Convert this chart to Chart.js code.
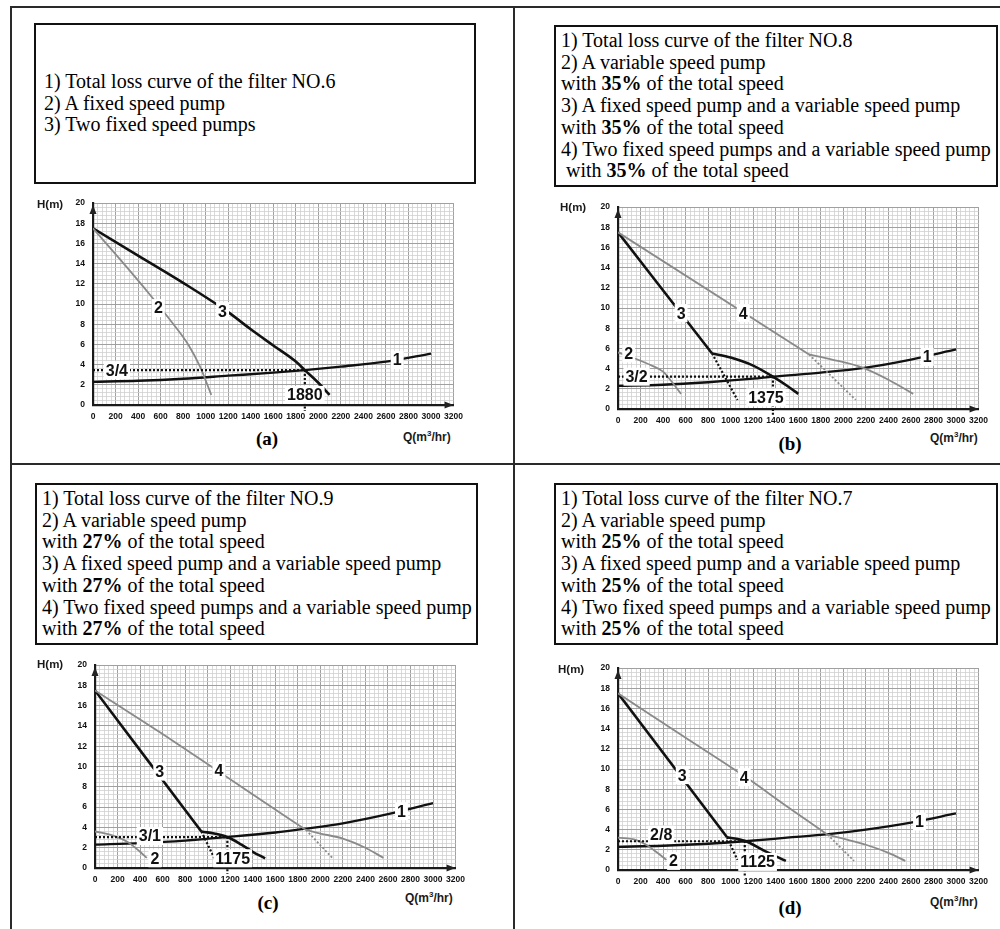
<!DOCTYPE html>
<html><head><meta charset="utf-8">
<script src="https://cdn.jsdelivr.net/npm/chart.js@4.4.0/dist/chart.umd.min.js"></script>
<style>
body{margin:0;width:1000px;height:929px;position:relative;background:#fff;overflow:hidden;font-family:"Liberation Serif","Times New Roman",serif;color:#000;}
.fr{position:absolute;background:#2a2a2a;}
.box{position:absolute;border:2px solid #111;box-sizing:border-box;font-size:20px;line-height:21.7px;padding-left:5px;display:flex;flex-direction:column;justify-content:center;white-space:nowrap;}
.cv{position:absolute;}
.ax{position:absolute;font-family:"Liberation Sans",Arial,sans-serif;font-weight:bold;color:#1a1a1a;white-space:nowrap;line-height:1;}
.pl{position:absolute;font-family:"Liberation Serif","Times New Roman",serif;font-weight:bold;font-size:19px;line-height:1;transform:translate(-50%,-50%);}
</style></head><body>
<div class="fr" style="left:10px;top:6px;width:990px;height:2px"></div>
<div class="fr" style="left:10px;top:6px;width:2px;height:923px"></div>
<div class="fr" style="left:513px;top:6px;width:2px;height:923px"></div>
<div class="fr" style="left:10px;top:463px;width:990px;height:2px"></div>

<div class="box" style="left:34px;top:23px;width:442px;height:161px;padding-left:8px">
<div>1) Total loss curve of the filter NO.6</div>
<div>2) A fixed speed pump</div>
<div>3) Two fixed speed pumps</div>
</div>
<div class="box" style="left:554px;top:25px;width:444px;height:162px">
<div>1) Total loss curve of the filter NO.8</div>
<div>2) A variable speed pump</div>
<div>with <b>35%</b> of the total speed</div>
<div>3) A fixed speed pump and a variable speed pump</div>
<div>with <b>35%</b> of the total speed</div>
<div>4) Two fixed speed pumps and a variable speed pump</div>
<div>&nbsp;with <b>35%</b> of the total speed</div>
</div>
<div class="box" style="left:35px;top:483px;width:443px;height:162px">
<div>1) Total loss curve of the filter NO.9</div>
<div>2) A variable speed pump</div>
<div>with <b>27%</b> of the total speed</div>
<div>3) A fixed speed pump and a variable speed pump</div>
<div>with <b>27%</b> of the total speed</div>
<div>4) Two fixed speed pumps and a variable speed pump</div>
<div>with <b>27%</b> of the total speed</div>
</div>
<div class="box" style="left:554px;top:483px;width:444px;height:162px">
<div>1) Total loss curve of the filter NO.7</div>
<div>2) A variable speed pump</div>
<div>with <b>25%</b> of the total speed</div>
<div>3) A fixed speed pump and a variable speed pump</div>
<div>with <b>25%</b> of the total speed</div>
<div>4) Two fixed speed pumps and a variable speed pump</div>
<div>with <b>25%</b> of the total speed</div>
</div>

<canvas id="ca" class="cv" width="415" height="235" style="left:55px;top:190px"></canvas>
<canvas id="cb" class="cv" width="415" height="235" style="left:580px;top:194px"></canvas>
<canvas id="cc" class="cv" width="415" height="236" style="left:57px;top:652px"></canvas>
<canvas id="cd" class="cv" width="415" height="235" style="left:580px;top:655px"></canvas>

<div class="ax" style="left:37px;top:199px;font-size:11.5px">H(m)</div>
<div class="ax" style="left:560px;top:202px;font-size:11.5px">H(m)</div>
<div class="ax" style="left:37px;top:659px;font-size:11.5px">H(m)</div>
<div class="ax" style="left:558px;top:664px;font-size:11.5px">H(m)</div>
<div class="ax" style="left:403px;top:430px;font-size:12px">Q(m<sup style="font-size:8px">3</sup>/hr)</div>
<div class="ax" style="left:930px;top:431px;font-size:12px">Q(m<sup style="font-size:8px">3</sup>/hr)</div>
<div class="ax" style="left:405px;top:891px;font-size:12px">Q(m<sup style="font-size:8px">3</sup>/hr)</div>
<div class="ax" style="left:930px;top:895px;font-size:12px">Q(m<sup style="font-size:8px">3</sup>/hr)</div>
<div class="pl" style="left:267px;top:438px">(a)</div>
<div class="pl" style="left:790px;top:443px">(b)</div>
<div class="pl" style="left:268px;top:902px">(c)</div>
<div class="pl" style="left:790px;top:907px">(d)</div>

<script>
// ---- axis ticks ----
const xTickLabels = [0,200,400,600,800,1000,1200,1400,1600,1800,2000,2200,2400,2600,2800,3000,3200];
const yTickLabels = [0,2,4,6,8,10,12,14,16,18,20];

// ---- panel (a): filter NO.6 ----
const aLoss = [[0,2.3],[400,2.4],[800,2.6],[1200,2.9],[1600,3.2],[1880,3.45],[2200,3.8],[2600,4.3],[3000,5.1]];
const aOnePump = [[0,17.5],[250,14.3],[500,11.0],[700,8.2],[850,5.9],[950,3.8],[1050,1.0]];
const aTwoPumps = [[0,17.5],[400,14.8],[800,12.1],[1200,9.2],[1400,7.5],[1600,5.9],[1800,4.3],[1880,3.45],[2000,2.2],[2100,1.0]];
const aOp = [1880,3.45];
const aLabels = [['2',580,9.6],['3',1150,9.3],['1',2700,4.45],['3/4',212,3.45],['1880',1880,1.0]];

// ---- panel (b): filter NO.8, 35% ----
const bLoss = [[0,2.3],[400,2.4],[800,2.65],[1200,3.0],[1375,3.2],[1800,3.6],[2200,4.1],[2600,4.9],[3000,5.9]];
const bVar = [[0,5.6],[150,5.0],[300,4.3],[400,3.7],[470,2.8],[560,1.5]];
const bFixVarA = [[0,17.5],[835,5.5]];
const bFixVarB = [[835,5.5],[1000,5.1],[1200,4.3],[1375,3.2],[1500,2.3],[1600,1.5]];
const bFixVarDot = [[835,5.5],[1060,0.9]];
const bTwoVarA = [[0,17.5],[1696,5.4]];
const bTwoVarB = [[1696,5.4],[1900,4.9],[2170,4.1],[2400,2.9],[2620,1.5]];
const bTwoVarDot = [[1696,5.4],[2110,0.9]];
const bOp = [1375,3.2];
const bLabels = [['2',95,5.5],['3',560,9.5],['4',1112,9.5],['1',2744,5.15],['3/2',165,3.2],['1375',1313,1.15]];

// ---- panel (c): filter NO.9, 27% ----
const cLoss = [[0,2.3],[400,2.45],[800,2.7],[1175,3.05],[1600,3.5],[1850,3.85],[2200,4.4],[2600,5.3],[3000,6.4]];
const cVar = [[0,3.6],[160,3.2],[300,2.5],[400,1.6],[460,1.0]];
const cFixVarA = [[0,17.5],[944,3.6]];
const cFixVarB = [[944,3.6],[1100,3.3],[1175,3.05],[1300,2.3],[1400,1.6],[1510,0.95]];
const cFixVarDot = [[944,3.6],[1060,0.95]];
const cTwoVarA = [[0,17.5],[600,13.2],[1100,9.5],[1500,6.5],[1873,3.75]];
const cTwoVarB = [[1873,3.75],[2000,3.4],[2200,2.9],[2400,2.0],[2560,1.0]];
const cTwoVarDot = [[1873,3.75],[2110,0.95]];
const cOp = [1175,3.05];
const cLabels = [['3',575,9.5],['4',1100,9.6],['1',2720,5.6],['2',531,0.96],['3/1',487,3.15],['1175',1222,0.96]];

// ---- panel (d): filter NO.7, 25% ----
const dLoss = [[0,2.3],[400,2.4],[800,2.6],[1125,2.85],[1500,3.2],[1870,3.55],[2200,4.0],[2600,4.7],[3000,5.6]];
const dVar = [[0,3.2],[150,3.0],[250,2.5],[350,1.7],[430,1.0]];
const dFixVarA = [[0,17.5],[968,3.25]];
const dFixVarB = [[968,3.25],[1125,2.9],[1300,1.9],[1490,0.9]];
const dFixVarDot = [[968,3.25],[1060,1.0]];
const dTwoVarA = [[0,17.5],[600,13.1],[1121,9.3],[1500,6.3],[1860,3.5]];
const dTwoVarB = [[1860,3.5],[2000,3.1],[2200,2.5],[2400,1.7],[2550,0.9]];
const dTwoVarDot = [[1860,3.5],[2095,0.9]];
const dOp = [1125,2.85];
const dLabels = [['3',570,9.4],['4',1121,9.2],['1',2676,4.8],['2',493,0.9],['2/8',383,3.5],['1125',1239,0.8]];

// ---- helpers ----
const BLACK = '#111', GRAY = '#8a8a8a';
const pts = arr => arr.map(p => ({x:p[0], y:p[1]}));
function line(arr, color, width, opts){ return Object.assign({data:pts(arr), borderColor:color, borderWidth:width, showLine:true, pointRadius:0, fill:false, tension:0.35, cubicInterpolationMode:'monotone'}, opts||{}); }
function dotted(arr, color, width, extra){ return line(arr, color, width||2, Object.assign({borderDash:[2,2], tension:0}, extra||{})); }
function opLines(op){
  return [
    dotted([[0,op[1]],[op[0],op[1]]], BLACK, 2.2),
    dotted([[op[0],op[1]],[op[0],-0.6]], BLACK, 2.2, {clip:false})
  ];
}
const isMajor = (v, step) => Math.abs(v/step - Math.round(v/step)) < 1e-6;

const annot = {
  id:'annot',
  afterDatasetsDraw(chart, args, o){
    const {ctx, chartArea:a, scales:{x,y}} = chart;
    ctx.save();
    const x0 = x.getPixelForValue(0), y0 = y.getPixelForValue(0);
    ctx.fillStyle = '#222';
    ctx.beginPath(); ctx.moveTo(x0, a.top+2); ctx.lineTo(x0-3.5, a.top+11); ctx.lineTo(x0+3.5, a.top+11); ctx.closePath(); ctx.fill();
    ctx.beginPath(); ctx.moveTo(a.right, y0); ctx.lineTo(a.right-9, y0-3.5); ctx.lineTo(a.right-9, y0+3.5); ctx.closePath(); ctx.fill();
    ctx.font = 'bold 16px "Liberation Sans", Arial, sans-serif';
    ctx.textAlign = 'center'; ctx.textBaseline = 'middle';
    for (const [t, vx, vy] of o.labels){
      const px = x.getPixelForValue(vx), py = y.getPixelForValue(vy);
      const w = ctx.measureText(t).width;
      ctx.fillStyle = '#fff'; ctx.fillRect(px - w/2 - 2, py - 9, w + 4, 18);
      ctx.fillStyle = '#111'; ctx.fillText(t, px, py + 1);
    }
    ctx.restore();
  }
};

function makeChart(id, datasets, labels, yW, padTop, padRight, xH){
  new Chart(document.getElementById(id), {
    type:'scatter',
    data:{datasets},
    plugins:[annot],
    options:{
      responsive:false, animation:false,
      layout:{padding:{top:padTop, right:padRight, left:0, bottom:0}},
      plugins:{legend:{display:false}, tooltip:{enabled:false}, annot:{labels}},
      scales:{
        x:{type:'linear', min:0, max:3200,
           afterFit: s => { s.height = xH; },
           border:{display:true, color:'#1a1a1a', width:2.2},
           grid:{drawTicks:false,
                 color: c => (c.tick && isMajor(c.tick.value,200)) ? '#a0a0a0' : '#d0d0d0',
                 lineWidth: c => (c.tick && isMajor(c.tick.value,200)) ? 1 : 0.8},
           ticks:{stepSize:40, autoSkip:false, maxRotation:0, minRotation:0, padding:7, color:'#111',
                  font:{family:'"Liberation Sans", Arial, sans-serif', size:8.5, weight:'bold'},
                  callback: v => xTickLabels.includes(Math.round(v)) && isMajor(v,200) ? String(Math.round(v)) : ''}},
        y:{type:'linear', min:0, max:20,
           afterFit: s => { s.width = yW; },
           border:{display:true, color:'#1a1a1a', width:2.2},
           grid:{drawTicks:false,
                 color: c => (c.tick && isMajor(c.tick.value,2)) ? '#a0a0a0' : '#d0d0d0',
                 lineWidth: c => (c.tick && isMajor(c.tick.value,2)) ? 1 : 0.8},
           ticks:{stepSize:0.4, autoSkip:false, padding:8, color:'#111',
                  font:{family:'"Liberation Sans", Arial, sans-serif', size:8.5, weight:'bold'},
                  callback: v => yTickLabels.includes(Math.round(v)) && isMajor(v,2) ? String(Math.round(v)) : ''}}
      }
    }
  });
}

makeChart('ca', [
  ...opLines(aOp),
  line(aOnePump, GRAY, 1.8),
  line(aTwoPumps, BLACK, 2.6),
  line(aLoss, BLACK, 2.3)
], aLabels, 38, 9, 15, 20);

makeChart('cb', [
  ...opLines(bOp),
  dotted(bFixVarDot, BLACK, 2.2),
  dotted(bTwoVarDot, GRAY, 1.8),
  line(bVar, GRAY, 1.8),
  line(bTwoVarA, GRAY, 1.8, {tension:0}),
  line(bTwoVarB, GRAY, 1.8),
  line(bFixVarA, BLACK, 2.6, {tension:0}),
  line(bFixVarB, BLACK, 2.6),
  line(bLoss, BLACK, 2.3)
], bLabels, 38, 9, 15, 20);

makeChart('cc', [
  ...opLines(cOp),
  dotted(cFixVarDot, BLACK, 2.2),
  dotted(cTwoVarDot, GRAY, 1.8),
  line(cVar, GRAY, 1.8),
  line(cTwoVarA, GRAY, 1.8),
  line(cTwoVarB, GRAY, 1.8),
  line(cFixVarA, BLACK, 2.6, {tension:0}),
  line(cFixVarB, BLACK, 2.6),
  line(cLoss, BLACK, 2.3)
], cLabels, 38, 9, 15, 20);

makeChart('cd', [
  ...opLines(dOp),
  dotted(dFixVarDot, BLACK, 2.2),
  dotted(dTwoVarDot, GRAY, 1.8),
  line(dVar, GRAY, 1.8),
  line(dTwoVarA, GRAY, 1.8),
  line(dTwoVarB, GRAY, 1.8),
  line(dFixVarA, BLACK, 2.6, {tension:0}),
  line(dFixVarB, BLACK, 2.6),
  line(dLoss, BLACK, 2.3)
], dLabels, 38, 9, 15, 20);
</script>
</body></html>
